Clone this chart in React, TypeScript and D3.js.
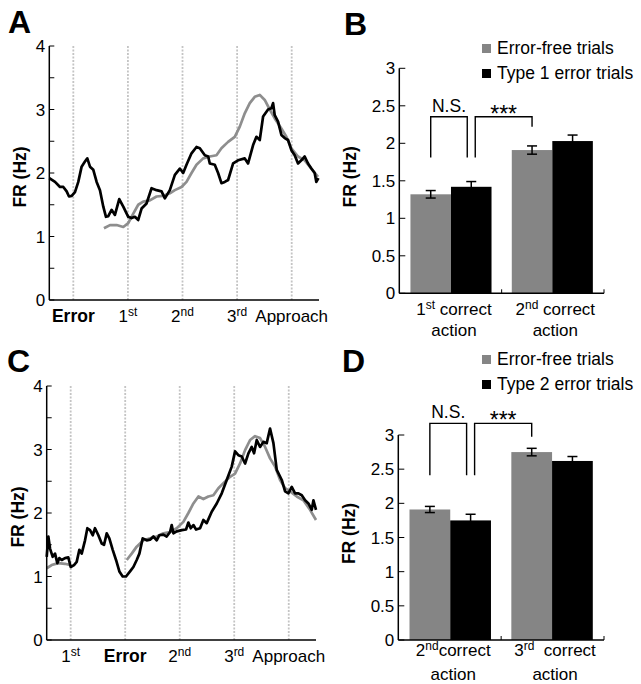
import * as d3 from "d3";

const FONT = "'Liberation Sans', Arial, Helvetica, sans-serif";
const GRAY_LINE = "#8e8e8e";
const GRAY_BAR = "#858585";
const DOT_COLOR = "#c4c4c4";

// ---- line panels: x in event units (dotted lines sit at 0..4), y in Hz ----
const EVENT_POSITIONS = [0, 1, 2, 3, 4];
const LINE_X_DOMAIN: [number, number] = [-0.44, 4.5];
const LINE_Y_TICKS = [0, 0.5, 1, 1.5, 2, 2.5, 3, 3.5, 4];

type EventLabel = { base: string; sup?: string; bold?: boolean };

const A_EVENT_LABELS: EventLabel[] = [
  { base: "Error", bold: true },
  { base: "1", sup: "st" },
  { base: "2", sup: "nd" },
  { base: "3", sup: "rd" },
  { base: "Approach" },
];

const C_EVENT_LABELS: EventLabel[] = [
  { base: "1", sup: "st" },
  { base: "Error", bold: true },
  { base: "2", sup: "nd" },
  { base: "3", sup: "rd" },
  { base: "Approach" },
];

const A_TYPE1_ERROR: [number, number][] = [
  [-0.44, 1.92], [-0.335, 1.86], [-0.244, 1.78], [-0.183, 1.78], [-0.122, 1.71], [-0.079, 1.63],
  [-0.03, 1.64], [0.03, 1.7], [0.091, 1.86], [0.152, 2.1], [0.213, 2.18], [0.256, 2.23],
  [0.305, 2.1], [0.366, 2.05], [0.427, 1.86], [0.488, 1.73], [0.549, 1.47], [0.598, 1.31],
  [0.64, 1.32], [0.701, 1.42], [0.762, 1.34], [0.841, 1.59], [0.915, 1.47], [1.006, 1.31],
  [1.067, 1.29], [1.128, 1.31], [1.189, 1.26], [1.25, 1.44], [1.341, 1.52], [1.433, 1.76],
  [1.524, 1.73], [1.616, 1.71], [1.677, 1.6], [1.768, 1.73], [1.86, 1.97], [1.951, 2.07],
  [2.012, 2.0], [2.073, 2.13], [2.165, 2.31], [2.256, 2.41], [2.317, 2.39], [2.409, 2.28],
  [2.47, 2.26], [2.5, 2.15], [2.591, 2.13], [2.652, 2.0], [2.713, 1.84], [2.774, 1.86],
  [2.835, 1.89], [2.927, 2.15], [3.018, 2.2], [3.14, 2.23], [3.201, 2.15], [3.293, 2.44],
  [3.354, 2.57], [3.415, 2.52], [3.476, 2.89], [3.567, 3.0], [3.628, 3.02], [3.659, 3.1],
  [3.689, 2.91], [3.75, 2.81], [3.811, 2.6], [3.872, 2.55], [3.933, 2.52], [3.994, 2.36],
  [4.055, 2.28], [4.116, 2.15], [4.177, 2.2], [4.238, 2.26], [4.299, 2.15], [4.36, 2.07],
  [4.421, 2.0], [4.451, 1.86], [4.49, 1.92],
];

const A_ERROR_FREE: [number, number][] = [
  [0.561, 1.13], [0.671, 1.18], [0.793, 1.18], [0.915, 1.15], [1.006, 1.21], [1.098, 1.36],
  [1.189, 1.5], [1.28, 1.55], [1.402, 1.57], [1.524, 1.63], [1.646, 1.64], [1.768, 1.68],
  [1.86, 1.73], [1.982, 1.78], [2.073, 1.86], [2.165, 2.0], [2.256, 2.13], [2.378, 2.23],
  [2.5, 2.26], [2.622, 2.28], [2.713, 2.39], [2.835, 2.49], [2.957, 2.57], [3.049, 2.73],
  [3.14, 2.94], [3.232, 3.1], [3.323, 3.2], [3.415, 3.23], [3.506, 3.15], [3.598, 3.0],
  [3.689, 2.86], [3.811, 2.7], [3.902, 2.57], [3.994, 2.39], [4.116, 2.26], [4.238, 2.2],
  [4.36, 2.07], [4.482, 1.94],
];

const C_TYPE2_ERROR: [number, number][] = [
  [-0.44, 1.31], [-0.41, 1.63], [-0.379, 1.44], [-0.33, 1.31], [-0.287, 1.36], [-0.245, 1.21],
  [-0.208, 1.29], [-0.165, 1.26], [-0.104, 1.29], [-0.043, 1.3], [0, 1.15], [0.061, 1.18],
  [0.11, 1.23], [0.159, 1.42], [0.202, 1.36], [0.263, 1.57], [0.306, 1.76], [0.355, 1.73],
  [0.404, 1.65], [0.446, 1.76], [0.508, 1.65], [0.569, 1.52], [0.612, 1.5], [0.661, 1.68],
  [0.709, 1.6], [0.771, 1.42], [0.832, 1.26], [0.893, 1.08], [0.954, 1.0], [1.015, 1.0],
  [1.089, 1.08], [1.15, 1.15], [1.211, 1.26], [1.26, 1.36], [1.321, 1.6], [1.394, 1.57],
  [1.456, 1.58], [1.517, 1.63], [1.578, 1.57], [1.627, 1.65], [1.7, 1.66], [1.761, 1.63],
  [1.823, 1.7], [1.853, 1.81], [1.884, 1.68], [1.945, 1.71], [2.037, 1.73], [2.116, 1.74],
  [2.159, 1.85], [2.202, 1.76], [2.251, 1.81], [2.3, 1.74], [2.373, 1.76], [2.434, 1.89],
  [2.495, 1.84], [2.587, 2.02], [2.679, 2.15], [2.771, 2.31], [2.862, 2.52], [2.954, 2.73],
  [3.015, 2.97], [3.076, 2.91], [3.138, 2.89], [3.199, 2.78], [3.26, 2.94], [3.321, 3.04],
  [3.364, 2.94], [3.413, 3.15], [3.474, 3.04], [3.535, 3.12], [3.596, 3.1], [3.657, 3.33],
  [3.719, 3.1], [3.78, 2.68], [3.872, 2.52], [3.933, 2.34], [3.994, 2.31], [4.055, 2.41],
  [4.116, 2.31], [4.177, 2.31], [4.239, 2.28], [4.3, 2.2], [4.361, 2.15], [4.422, 2.05],
  [4.453, 2.2], [4.5, 2.05],
];

const C_ERROR_FREE_PRE: [number, number][] = [
  [-0.44, 1.13], [-0.349, 1.18], [-0.226, 1.21], [-0.104, 1.2], [0, 1.18],
];

const C_ERROR_FREE_POST: [number, number][] = [
  [1.028, 1.26], [1.119, 1.36], [1.211, 1.47], [1.333, 1.57], [1.456, 1.6], [1.578, 1.63],
  [1.7, 1.68], [1.823, 1.7], [1.945, 1.76], [2.067, 1.86], [2.159, 2.0], [2.251, 2.15],
  [2.343, 2.26], [2.434, 2.22], [2.526, 2.26], [2.618, 2.28], [2.709, 2.39], [2.801, 2.47],
  [2.924, 2.57], [3.015, 2.62], [3.107, 2.78], [3.199, 2.99], [3.291, 3.15], [3.382, 3.21],
  [3.474, 3.18], [3.566, 3.04], [3.657, 2.86], [3.749, 2.73], [3.841, 2.52], [3.933, 2.39],
  [4.024, 2.34], [4.147, 2.26], [4.269, 2.2], [4.391, 2.05], [4.5, 1.89],
];

// ---- bar panels ----
const BAR_SERIES = ["errorFree", "errorTrials"];
const BAR_Y_TICKS = [0, 0.5, 1, 1.5, 2, 2.5, 3];

const B_GROUPS = ["first", "second"];
const B_LABELS: [string, string, string][] = [["1", "st", " correct"], ["2", "nd", " correct"]];
const B_LEGEND = ["Error-free trials", "Type 1 error trials"];
const B_ERROR_FREE = [1.32, 1.91];
const B_ERROR_FREE_SEM = [0.05, 0.055];
const B_ERROR_TRIALS = [1.42, 2.03];
const B_ERROR_TRIALS_SEM = [0.07, 0.08];
// bracket: top value, left leg bottom, right leg bottom
const B_BRACKET_NS = [2.355, 1.81, 1.81];
const B_BRACKET_SIG = [2.355, 1.81, 2.22];

const D_GROUPS = ["second", "third"];
const D_LABELS: [string, string, string][] = [["2", "nd", "correct"], ["3", "rd", "  correct"]];
const D_LEGEND = ["Error-free trials", "Type 2 error trials"];
const D_ERROR_FREE = [1.91, 2.75];
const D_ERROR_FREE_SEM = [0.045, 0.055];
const D_ERROR_TRIALS = [1.75, 2.62];
const D_ERROR_TRIALS_SEM = [0.09, 0.065];
const D_BRACKET_NS = [3.17, 2.41, 2.41];
const D_BRACKET_SIG = [3.17, 2.41, 2.975];

type LinePanelProps = {
  letter: string;
  letterPos: [number, number];
  xRange: [number, number];
  yRange: [number, number];
  labels: EventLabel[];
  grayLines: [number, number][][];
  blackLine: [number, number][];
};

const LinePanel = ({ letter, letterPos, xRange, yRange, labels, grayLines, blackLine }: LinePanelProps) => {
  const x = d3.scaleLinear().domain(LINE_X_DOMAIN).range(xRange);
  const y = d3.scaleLinear().domain([0, 4]).range(yRange);
  const line = d3
    .line<[number, number]>()
    .x((d) => x(d[0]))
    .y((d) => y(d[1]));
  const x0 = xRange[0];
  const labelY = yRange[0] + 22;

  return (
    <g>
      <text x={letterPos[0]} y={letterPos[1]} fontSize={32} fontWeight="bold">
        {letter}
      </text>
      {EVENT_POSITIONS.map((e) => (
        <line
          key={e}
          x1={x(e)}
          x2={x(e)}
          y1={y(0)}
          y2={y(4)}
          stroke={DOT_COLOR}
          strokeWidth={1.8}
          strokeDasharray="2,1.5"
        />
      ))}
      {grayLines.map((pts, i) => (
        <path key={i} d={line(pts) ?? ""} fill="none" stroke={GRAY_LINE} strokeWidth={2.7} strokeLinejoin="round" />
      ))}
      <path d={line(blackLine) ?? ""} fill="none" stroke="#000" strokeWidth={2.7} strokeLinejoin="round" />
      <line x1={x0} x2={x0} y1={y(0)} y2={y(4)} stroke="#000" strokeWidth={1.5} />
      <line x1={x0} x2={xRange[1]} y1={y(0)} y2={y(0)} stroke="#000" strokeWidth={1.5} />
      {LINE_Y_TICKS.map((t) => (
        <g key={t}>
          <line x1={x0} x2={x0 + 5} y1={y(t)} y2={y(t)} stroke="#000" strokeWidth={1} />
          {Number.isInteger(t) && (
            <text x={x0 - 4} y={y(t)} dy="0.36em" textAnchor="end" fontSize={17}>
              {t}
            </text>
          )}
        </g>
      ))}
      <text
        transform={`translate(${x0 - 23},${(yRange[0] + yRange[1]) / 2 + 4}) rotate(-90)`}
        textAnchor="middle"
        fontSize={17.5}
        fontWeight="bold"
      >
        FR (Hz)
      </text>
      {labels.map((l, i) => (
        <text
          key={i}
          x={x(EVENT_POSITIONS[i])}
          y={labelY}
          textAnchor="middle"
          fontSize={l.bold ? 17.5 : 17}
          fontWeight={l.bold ? "bold" : "normal"}
        >
          {l.base}
          {l.sup && (
            <tspan fontSize={12} dy={-6}>
              {l.sup}
            </tspan>
          )}
        </text>
      ))}
    </g>
  );
};

type BarPanelProps = {
  letter: string;
  letterPos: [number, number];
  xRange: [number, number];
  yRange: [number, number];
  groups: string[];
  labels: [string, string, string][];
  labelBaselines: [number, number];
  legend: string[];
  legendTop: number;
  errorFree: number[];
  errorFreeSem: number[];
  errorTrials: number[];
  errorTrialsSem: number[];
  bracketNs: number[];
  bracketSig: number[];
};

const BarPanel = (p: BarPanelProps) => {
  const x = d3.scaleBand<string>().domain(p.groups).range(p.xRange).paddingInner(0.2).paddingOuter(0.11);
  const xs = d3.scaleBand<string>().domain(BAR_SERIES).range([0, x.bandwidth()]);
  const y = d3.scaleLinear().domain([0, 3]).range(p.yRange);
  const x0 = p.xRange[0];
  const colors = [GRAY_BAR, "#000"];
  const values = [p.errorFree, p.errorTrials];
  const sems = [p.errorFreeSem, p.errorTrialsSem];
  const center = (gi: number, si: number) => (x(p.groups[gi]) ?? 0) + (xs(BAR_SERIES[si]) ?? 0) + xs.bandwidth() / 2;

  const brackets = [
    { v: p.bracketNs, x1: center(0, 0), x2: center(0, 1) - 4, text: "N.S.", size: 17.5, dy: -5 },
    { v: p.bracketSig, x1: center(0, 1) + 4, x2: center(1, 0), text: "***", size: 23, dy: 5 },
  ];
  const dividers = p.groups.map((g, gi) =>
    gi === p.groups.length - 1 ? p.xRange[1] : (x(g) ?? 0) + x.bandwidth() + (x.step() - x.bandwidth()) / 2
  );

  return (
    <g>
      <text x={p.letterPos[0]} y={p.letterPos[1]} fontSize={32} fontWeight="bold">
        {p.letter}
      </text>
      {p.legend.map((l, i) => (
        <g key={l}>
          <rect x={482} y={p.legendTop + i * 25} width={9} height={9} fill={colors[i]} />
          <text x={497} y={p.legendTop + i * 25 + 10} fontSize={17.5}>
            {l}
          </text>
        </g>
      ))}
      {p.groups.map((g, gi) =>
        BAR_SERIES.map((s, si) => (
          <rect
            key={g + s}
            x={(x(g) ?? 0) + (xs(s) ?? 0)}
            y={y(values[si][gi])}
            width={xs.bandwidth()}
            height={y(0) - y(values[si][gi])}
            fill={colors[si]}
          />
        ))
      )}
      {p.groups.map((g, gi) =>
        BAR_SERIES.map((s, si) => {
          const cx = center(gi, si);
          const top = y(values[si][gi] + sems[si][gi]);
          const bot = y(values[si][gi] - sems[si][gi]);
          return (
            <g key={g + s + "err"} stroke="#000" strokeWidth={1.5}>
              <line x1={cx} x2={cx} y1={top} y2={bot} />
              <line x1={cx - 5} x2={cx + 5} y1={top} y2={top} />
              <line x1={cx - 5} x2={cx + 5} y1={bot} y2={bot} />
            </g>
          );
        })
      )}
      {brackets.map((b) => (
        <g key={b.text}>
          <path
            d={`M${b.x1},${y(b.v[1])}V${y(b.v[0])}H${b.x2}V${y(b.v[2])}`}
            fill="none"
            stroke="#000"
            strokeWidth={1.4}
          />
          <text x={(b.x1 + b.x2) / 2} y={y(b.v[0]) + b.dy} textAnchor="middle" fontSize={b.size}>
            {b.text}
          </text>
        </g>
      ))}
      <line x1={x0} x2={x0} y1={y(0)} y2={y(3)} stroke="#000" strokeWidth={1.5} />
      <line x1={x0} x2={p.xRange[1]} y1={y(0)} y2={y(0)} stroke="#000" strokeWidth={1.5} />
      {dividers.map((tx, i) => (
        <line key={i} x1={tx} x2={tx} y1={y(0)} y2={y(0) - 4} stroke="#000" strokeWidth={1} />
      ))}
      {BAR_Y_TICKS.map((t) => (
        <g key={t}>
          <line x1={x0} x2={x0 + 6} y1={y(t)} y2={y(t)} stroke="#000" strokeWidth={1} />
          <text x={x0 - 4} y={y(t)} dy="0.36em" textAnchor="end" fontSize={17}>
            {t}
          </text>
        </g>
      ))}
      <text
        transform={`translate(${x0 - 43},${(p.yRange[0] + p.yRange[1]) / 2 - 4}) rotate(-90)`}
        textAnchor="middle"
        fontSize={17.5}
        fontWeight="bold"
      >
        FR (Hz)
      </text>
      {p.groups.map((g, gi) => {
        const cx = (x(g) ?? 0) + x.bandwidth() / 2 + 3;
        const [base, sup, rest] = p.labels[gi];
        return (
          <g key={g + "lab"}>
            <text x={cx} y={p.labelBaselines[0]} textAnchor="middle" fontSize={17} style={{ whiteSpace: "pre" }}>
              {base}
              <tspan fontSize={12} dy={-6}>
                {sup}
              </tspan>
              <tspan dy={6}>{rest}</tspan>
            </text>
            <text x={cx} y={p.labelBaselines[1]} textAnchor="middle" fontSize={17}>
              action
            </text>
          </g>
        );
      })}
    </g>
  );
};

const App = () => (
  <div style={{ position: "absolute", left: 0, top: 0 }}>
    <svg width={641} height={684} style={{ display: "block", background: "#fff", fontFamily: FONT }}>
      <LinePanel
        letter="A"
        letterPos={[8, 33]}
        xRange={[49.3, 319]}
        yRange={[300, 46]}
        labels={A_EVENT_LABELS}
        grayLines={[A_ERROR_FREE]}
        blackLine={A_TYPE1_ERROR}
      />
      <LinePanel
        letter="C"
        letterPos={[7, 372]}
        xRange={[46.7, 316]}
        yRange={[640, 386]}
        labels={C_EVENT_LABELS}
        grayLines={[C_ERROR_FREE_PRE, C_ERROR_FREE_POST]}
        blackLine={C_TYPE2_ERROR}
      />
      <BarPanel
        letter="B"
        letterPos={[344, 35]}
        xRange={[399.3, 604]}
        yRange={[293.3, 68.3]}
        groups={B_GROUPS}
        labels={B_LABELS}
        labelBaselines={[315, 336]}
        legend={B_LEGEND}
        legendTop={44}
        errorFree={B_ERROR_FREE}
        errorFreeSem={B_ERROR_FREE_SEM}
        errorTrials={B_ERROR_TRIALS}
        errorTrialsSem={B_ERROR_TRIALS_SEM}
        bracketNs={B_BRACKET_NS}
        bracketSig={B_BRACKET_SIG}
      />
      <BarPanel
        letter="D"
        letterPos={[342, 372]}
        xRange={[398.3, 604]}
        yRange={[640, 435]}
        groups={D_GROUPS}
        labels={D_LABELS}
        labelBaselines={[656, 680]}
        legend={D_LEGEND}
        legendTop={355}
        errorFree={D_ERROR_FREE}
        errorFreeSem={D_ERROR_FREE_SEM}
        errorTrials={D_ERROR_TRIALS}
        errorTrialsSem={D_ERROR_TRIALS_SEM}
        bracketNs={D_BRACKET_NS}
        bracketSig={D_BRACKET_SIG}
      />
    </svg>
  </div>
);

export default App;
